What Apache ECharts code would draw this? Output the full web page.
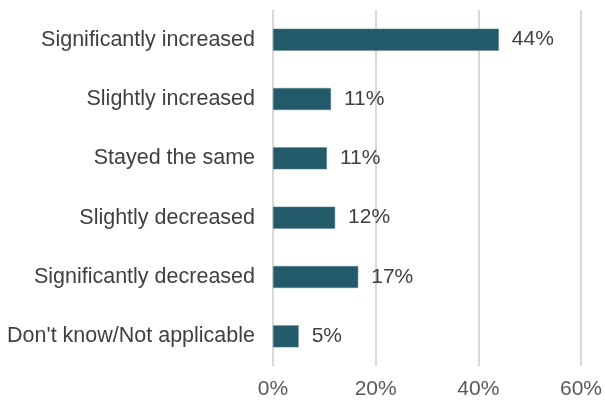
<!DOCTYPE html>
<html>
<head>
<meta charset="utf-8">
<script src="https://cdn.jsdelivr.net/npm/echarts@6/dist/echarts.min.js"></script>
<style>
html, body { margin: 0; padding: 0; background: #fff; }
#chart { width: 605px; height: 402px; }
</style>
</head>
<body>
<div id="chart"></div>
<script>
var categories = ['Significantly increased', 'Slightly increased', 'Stayed the same', 'Slightly decreased', 'Significantly decreased', "Don't know/Not applicable"];
var values = [44, 11.3, 10.5, 12.1, 16.6, 5];

var myChart = echarts.init(document.getElementById('chart'));
myChart.setOption({
    animation: false,
    textStyle: { fontFamily: '"Liberation Sans", Arial, sans-serif' },
    grid: {
        left: 273,
        right: 23,
        top: 10,
        bottom: 36
    },
    xAxis: {
        type: 'value',
        min: 0,
        max: 60,
        interval: 20,
        axisLine: { show: false },
        axisTick: { show: false },
        axisLabel: {
            formatter: '{value}%',
            color: '#595959',
            fontFamily: '"Liberation Sans", Arial, sans-serif',
            fontSize: 21,
            margin: 13
        },
        splitLine: { lineStyle: { color: '#d9d9d9', width: 2 } }
    },
    yAxis: {
        type: 'category',
        inverse: true,
        data: categories,
        axisLine: { show: false },
        axisTick: { show: false },
        axisLabel: {
            color: '#404040',
            fontFamily: '"Liberation Sans", Arial, sans-serif',
            fontSize: 21.5,
            margin: 18
        }
    },
    series: [
        {
            type: 'bar',
            data: values,
            barWidth: 22,
            itemStyle: { color: '#235a69', borderColor: '#5f8794', borderWidth: 0.5 },
            label: {
                show: true,
                position: 'right',
                distance: 13,
                formatter: function (p) { return Math.round(p.value) + '%'; },
                color: '#404040',
                fontFamily: '"Liberation Sans", Arial, sans-serif',
                fontSize: 21
            }
        }
    ]
});
</script>
</body>
</html>
